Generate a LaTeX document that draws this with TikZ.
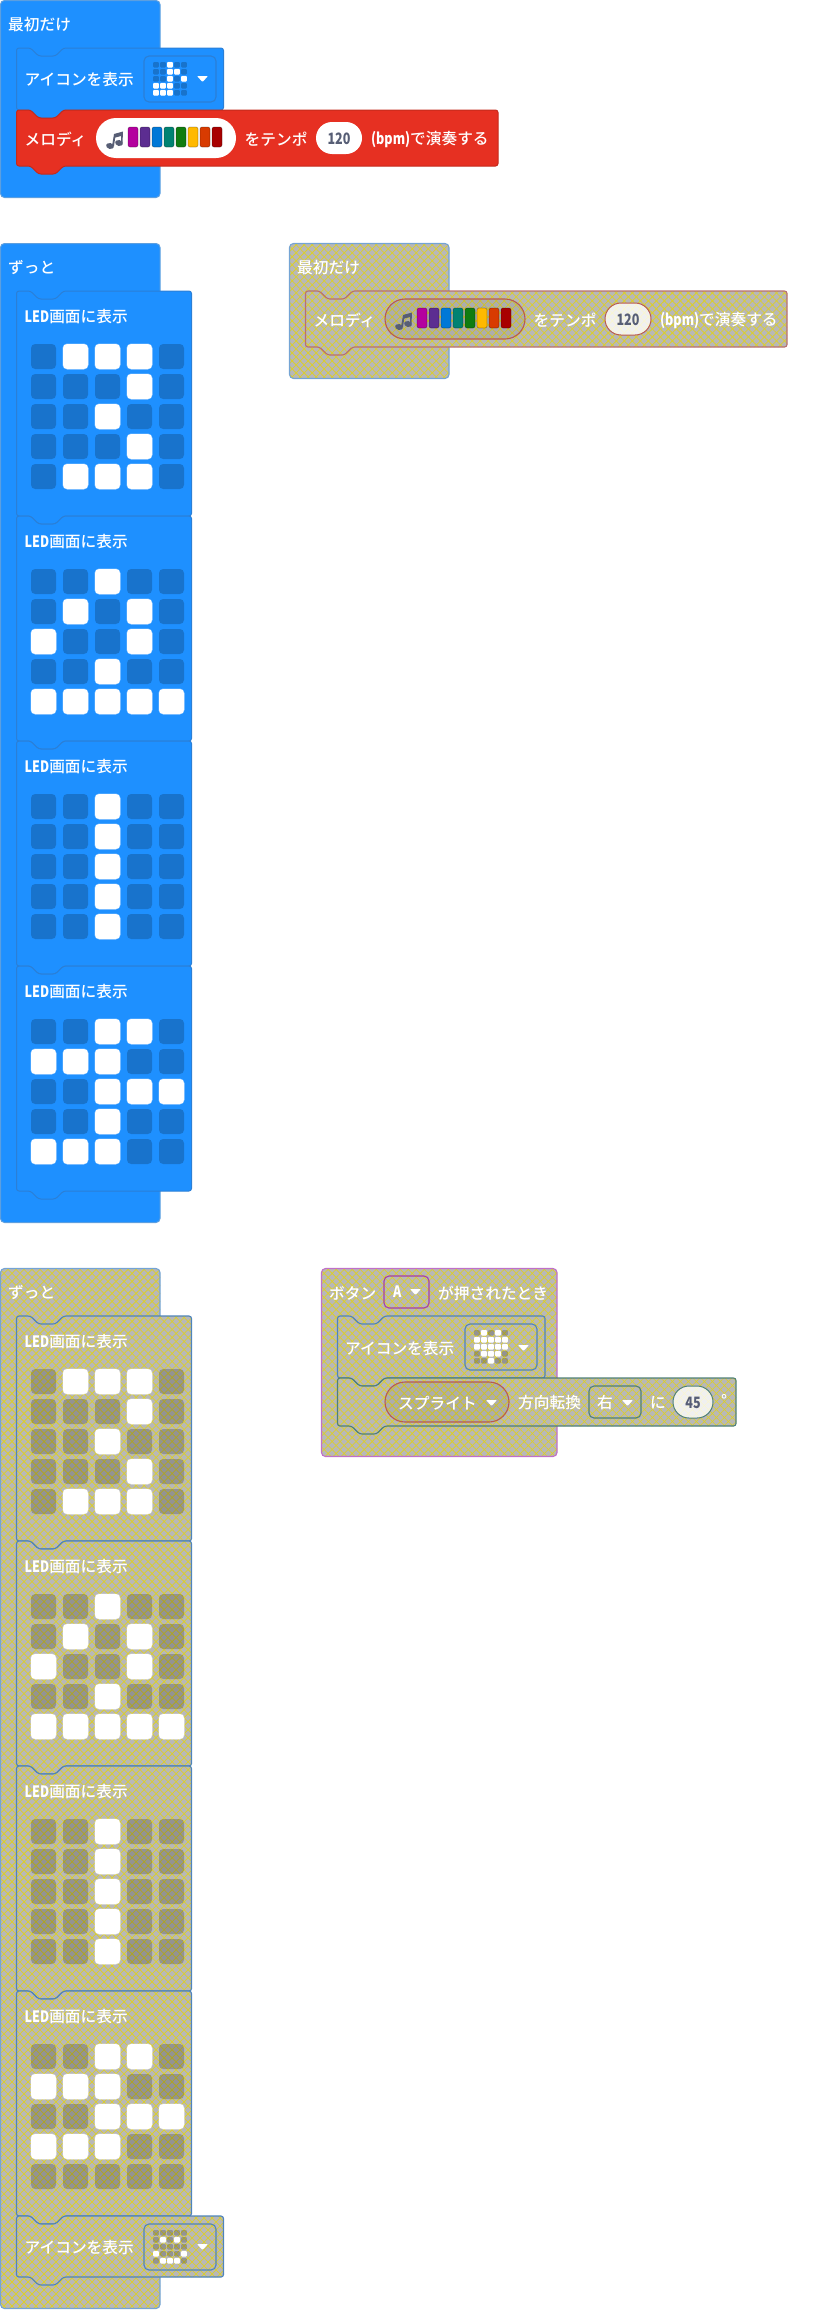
\documentclass[tikz,border=0pt]{standalone}
\usepackage{fontspec}
\setmainfont{Noto Sans CJK JP}[BoldFont={Noto Sans CJK JP Medium}]
\newfontfamily\narrowlat[FakeStretch=0.8]{Noto Sans CJK JP}
\usetikzlibrary{patterns.meta}

\definecolor{blockblue}{HTML}{1E90FF}
\definecolor{blueedge}{HTML}{2B7FD6}
\definecolor{bluehat}{HTML}{5C9FE0}
\definecolor{blockred}{HTML}{E63022}
\definecolor{rededge}{HTML}{C42A1C}
\definecolor{hatchgrey}{HTML}{B8B8B8}
\definecolor{hatchyellow}{HTML}{DCCF2A}
\definecolor{inktext}{HTML}{575E75}
\definecolor{greyhat}{HTML}{74A4D4}
\definecolor{greystack}{HTML}{4F84BA}
\definecolor{greymelody}{HTML}{B87070}
\definecolor{greypill}{HTML}{B85A50}
\definecolor{greybutton}{HTML}{C070C8}
\definecolor{greykey}{HTML}{A63EA8}
\definecolor{greyturn}{HTML}{4F8078}

\tikzset{
  hatchfill/.style={
    preaction={fill=hatchgrey},
    preaction={pattern={Lines[angle=45,distance=5.66pt,line width=.75pt]},pattern color=hatchyellow},
    preaction={pattern={Lines[angle=-45,distance=5.66pt,line width=.75pt]},pattern color=hatchyellow}},
  blueblock/.style={fill=blockblue,draw=blueedge,line width=1pt},
  bluehatblock/.style={fill=blockblue,draw=bluehat,line width=1pt},
  redblock/.style={fill=blockred,draw=rededge,line width=1pt},
  greyblock/.style={hatchfill,draw=#1,line width=1.1pt},
  lbl/.style={anchor=west,inner sep=0pt,text=white,font=\bfseries\fontsize{15.7}{16}\selectfont},
  numlbl/.style={anchor=center,inner sep=0pt,text=inktext,font=\bfseries\fontsize{15.7}{16}\selectfont\narrowlat},
  ledon/.style={fill=white,draw=white,draw opacity=.5},
  ledoff/.style={fill=black,fill opacity=.2},
  dropbox/.style={draw=#1,line width=1.1pt,rounded corners=5pt},
  whitepill/.style={fill=white,rounded corners=16pt},
  palepill/.style={fill=white,fill opacity=.8,draw=#1,line width=1pt,rounded corners=16pt},
  darkpill/.style={fill=black,fill opacity=.06,draw=#1,line width=1.1pt,rounded corners=20pt}
}

\newcommand{\blockshape}[5]{%
  \path[#1,rounded corners=2.5pt] (#2,{#3}) -- ++(14,0) -- ++(8,8) -- ++(17,0) -- ++(8,-8)
    -- (#4,{#3}) -- (#4,{#5}) -- ({#2+47},{#5}) -- ++(-8,8) -- ++(-17,0) -- ++(-8,-8)
    -- (#2,{#5}) -- cycle;}
\newcommand{\hatshape}[5]{%
  \path[#1,rounded corners=4pt] (#2,{#3}) -- (#4,{#3}) -- (#4,{#5}) -- (#2,{#5}) -- cycle;}
\newcommand{\ledgrid}[6]{%
  \foreach \cells [count=\r from 0] in #6 {
    \foreach \c [count=\k from 0] in \cells {
      \ifnum\c=1
        \path[ledon,line width=#5/25*1pt,rounded corners=#5/6*1pt]
          ({#1+\k*#3},{#2+\r*#4}) rectangle ++(#5,#5);
      \else
        \path[ledoff,rounded corners=#5/6*1pt]
          ({#1+\k*#3},{#2+\r*#4}) rectangle ++(#5,#5);
      \fi
    }
  }}
\newcommand{\ledblock}[4]{%
  \blockshape{#1}{16.5}{#2}{191.5}{#2+225}
  \node[lbl] (#4) at (24.5,{#2+26}) {{\narrowlat LED}画面に表示};
  \ledgrid{31}{#2+53}{32}{30}{25}{#3}}
\newcommand{\dropmark}[2]{%
  \fill[white,rounded corners=.8pt] (#1,{#2}) -- ++(11,0) -- ++(-5.5,6) -- cycle;}
\newcommand{\notebars}[2]{%
  \foreach \shade [count=\n from 0] in {B4009E,5C2D91,0078D7,008272,107C10,FFB900,D83B01,A80000} {
    \definecolor{barcolor}{HTML}{\shade}
    \path[fill=barcolor,draw=black,draw opacity=.25,line width=.8pt,rounded corners=2pt]
      ({#1+\n*12},{#2}) rectangle ++(10,20);
  }
  \begin{scope}[shift={(#1-22,#2+4)},fill=inktext]
    \fill[rotate around={-15:(4,15)}] (4,15) ellipse (3.9 and 2.9);
    \fill[rotate around={-15:(13,12)}] (13,12) ellipse (3.9 and 2.9);
    \fill (6,15) -- (8,3) -- (17,0.5) -- (16.5,12) -- (15,12) -- (15,5) -- (9.2,6.6) -- (8,15) -- cycle;
  \end{scope}}

\newcommand{\glyphthree}{{0,1,1,1,0},{0,0,0,1,0},{0,0,1,0,0},{0,0,0,1,0},{0,1,1,1,0}}
\newcommand{\glyphtwo}{{0,0,1,0,0},{0,1,0,1,0},{1,0,0,1,0},{0,0,1,0,0},{1,1,1,1,1}}
\newcommand{\glyphone}{{0,0,1,0,0},{0,0,1,0,0},{0,0,1,0,0},{0,0,1,0,0},{0,0,1,0,0}}
\newcommand{\glyphgoa}{{0,0,1,1,0},{1,1,1,0,0},{0,0,1,1,1},{0,0,1,0,0},{1,1,1,0,0}}
\newcommand{\glyphgob}{{0,0,1,1,0},{1,1,1,0,0},{0,0,1,1,1},{1,1,1,0,0},{0,0,0,0,0}}
\newcommand{\iconnote}{{0,0,1,0,0},{0,0,1,1,0},{0,0,1,0,1},{1,1,1,0,0},{1,1,1,0,0}}
\newcommand{\iconsmile}{{0,0,0,0,0},{0,1,0,1,0},{0,0,0,0,0},{1,0,0,0,1},{0,1,1,1,0}}
\newcommand{\iconheart}{{0,1,0,1,0},{1,1,1,1,1},{1,1,1,1,1},{0,1,1,1,0},{0,0,1,0,0}}

\begin{document}
\begin{tikzpicture}[x=1pt,y=-1pt]
\useasboundingbox (0,0) rectangle (839,2310);

% top left: start block
\hatshape{bluehatblock}{0.5}{0.5}{160}{197.5}
\node[lbl] (startTitle) at (8,25) {最初だけ};
\blockshape{blueblock}{16.5}{48}{223.5}{110}
\node[lbl] (startIconText) at (24.5,80) {アイコンを表示};
\path[dropbox=blueedge] (144,56) rectangle (216,102);
\ledgrid{153.2}{62}{7}{7}{5.6}{\iconnote}
\dropmark{197}{76}
\blockshape{redblock}{16.5}{110}{498}{166}
\node[lbl] (startMelodyText) at (24.5,139) {メロディ};
\path[whitepill,rounded corners=20pt] (96,118) rectangle (236,158);
\notebars{128}{127}
\node[lbl] (startTempoText) at (244.5,139) {をテンポ};
\path[whitepill] (316,122) rectangle (362,154);
\node[numlbl] (startTempo) at (339,138.5) {120};
\node[lbl] (startBpmText) at (371,139) {{\narrowlat (bpm)}で演奏する};

% forever block, blue
\hatshape{bluehatblock}{0.5}{243.5}{160}{1222.5}
\node[lbl] (foreverTitle) at (8,268) {ずっと};
\ledblock{blueblock}{291}{\glyphthree}{ledTextA}
\ledblock{blueblock}{516}{\glyphtwo}{ledTextB}
\ledblock{blueblock}{741}{\glyphone}{ledTextC}
\ledblock{blueblock}{966}{\glyphgoa}{ledTextD}

% start block, hatched
\hatshape{greyblock=greyhat}{289.5}{243.5}{449}{378.5}
\node[lbl] (hatchStartTitle) at (297,268) {最初だけ};
\blockshape{greyblock=greymelody}{305.5}{291}{787}{347}
\node[lbl] (hatchMelodyText) at (313.5,320) {メロディ};
\path[darkpill=greypill] (385,299) rectangle (525,339);
\notebars{417}{308}
\node[lbl] (hatchTempoText) at (533.5,320) {をテンポ};
\path[palepill=greypill] (605,303) rectangle (651,335);
\node[numlbl] (hatchTempo) at (628,319.5) {120};
\node[lbl] (hatchBpmText) at (660,320) {{\narrowlat (bpm)}で演奏する};

% forever block, hatched
\hatshape{greyblock=greyhat}{0.5}{1268.5}{160}{2308.5}
\node[lbl] (hatchForeverTitle) at (8,1293) {ずっと};
\ledblock{greyblock=greystack}{1316}{\glyphthree}{hatchLedTextA}
\ledblock{greyblock=greystack}{1541}{\glyphtwo}{hatchLedTextB}
\ledblock{greyblock=greystack}{1766}{\glyphone}{hatchLedTextC}
\ledblock{greyblock=greystack}{1991}{\glyphgob}{hatchLedTextD}
\blockshape{greyblock=greystack}{16.5}{2216}{223.5}{2277}
\node[lbl] (hatchIconText) at (24.5,2248) {アイコンを表示};
\path[dropbox=greystack] (144,2224) rectangle (216,2270);
\ledgrid{153.2}{2230}{7}{7}{5.6}{\iconsmile}
\dropmark{197}{2244}

% button block, hatched
\hatshape{greyblock=greybutton}{321.5}{1268.5}{557}{1456.5}
\node[lbl] (buttonTextA) at (329,1293) {ボタン};
\path[dropbox=greykey] (384,1276) rectangle (429,1308);
\node[lbl] (buttonKey) at (393,1292) {{\narrowlat A}};
\dropmark{410}{1289}
\node[lbl] (buttonTextB) at (438,1293) {が押されたとき};
\blockshape{greyblock=greystack}{337.5}{1316}{545}{1378}
\node[lbl] (buttonIconText) at (345,1349) {アイコンを表示};
\path[dropbox=greystack] (465,1324) rectangle (537,1370);
\ledgrid{474.2}{1330}{7}{7}{5.6}{\iconheart}
\dropmark{518}{1345}
\blockshape{greyblock=greyturn}{337.5}{1378}{736}{1426}
\path[darkpill=greypill] (385,1382) rectangle (509,1422);
\node[lbl] (spriteText) at (398,1403) {スプライト};
\dropmark{486}{1400}
\node[lbl] (turnText) at (518,1403) {方向転換};
\path[dropbox=greyturn] (589,1386) rectangle (641,1418);
\node[lbl] (turnDir) at (597,1403) {右};
\dropmark{622}{1400}
\node[lbl] (turnTo) at (650,1403) {に};
\path[palepill=greyturn] (673,1386) rectangle (713,1418);
\node[numlbl] (turnAngle) at (693,1402.5) {45};
\node[lbl] (turnDegree) at (721,1400) {°};
\end{tikzpicture}
\end{document}
